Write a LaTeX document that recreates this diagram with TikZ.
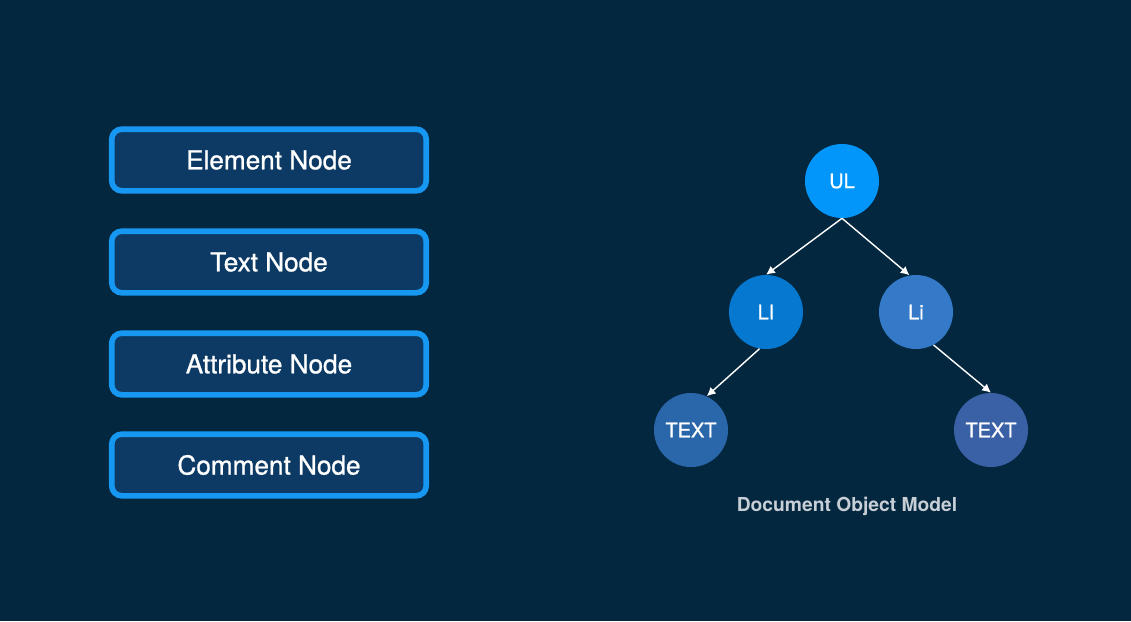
\documentclass[tikz,border=0pt]{standalone}
\usepackage{fontspec}
\setmainfont{TeX Gyre Heros}
\newfontfamily\medfont[FakeBold=0.9]{TeX Gyre Heros}
\usetikzlibrary{arrows.meta,positioning}
\definecolor{BgNavy}{RGB}{3,39,62}
\definecolor{BoxFill}{RGB}{13,58,100}
\definecolor{BoxEdge}{RGB}{22,152,242}
\definecolor{UlBlue}{RGB}{2,150,250}
\definecolor{LiBlue}{RGB}{6,120,208}
\definecolor{LiBlueB}{RGB}{52,122,200}
\definecolor{TextBlue}{RGB}{42,102,170}
\definecolor{TextBlueB}{RGB}{58,96,165}
\definecolor{CaptionGray}{RGB}{200,206,214}

\begin{document}
\begin{tikzpicture}[x=0.025cm,y=-0.025cm,
    kind box/.style={draw=BoxEdge,line width=4pt,fill=BoxFill,rounded corners=0.25cm,
      minimum width=7.86cm,minimum height=1.54cm,text=white,font=\medfont\fontsize{18.6}{22}\selectfont},
    dom/.style={circle,minimum size=1.85cm,inner sep=0pt,text=white,font=\medfont\fontsize{14.2}{16}\selectfont},
    link/.style={white,line width=1pt,-{Latex[length=2.2mm,width=2.2mm]}}]
  \fill[BgNavy] (0,0) rectangle (1131,621);
  % node kinds
  \foreach \t/\y [count=\i] in {Element Node/160,Text Node/262,Attribute Node/364,Comment Node/465} {
    \node[kind box] (K\i) at (269,\y) {\t};
  }
  % tree
  \node[dom,fill=UlBlue] (ul) at (842,181) {UL};
  \node[dom,fill=LiBlue] (liA) at (766,312) {LI};
  \node[dom,fill=LiBlueB] (liB) at (916,312) {Li};
  \node[dom,fill=TextBlue] (txtA) at (691,430) {TEXT};
  \node[dom,fill=TextBlueB] (txtB) at (991,430) {TEXT};
  \draw[link] (ul.south) -- (liA.north);
  \draw[link] (ul.south) -- (liB.100);
  \draw[link] (liA.-100) -- (txtA.65);
  \draw[link] (liB.-62) -- (txtB.north);
  \node[text=CaptionGray,font=\bfseries\fontsize{13.7}{16}\selectfont] (cap) at (847,506) {Document Object Model};
\end{tikzpicture}
\end{document}
